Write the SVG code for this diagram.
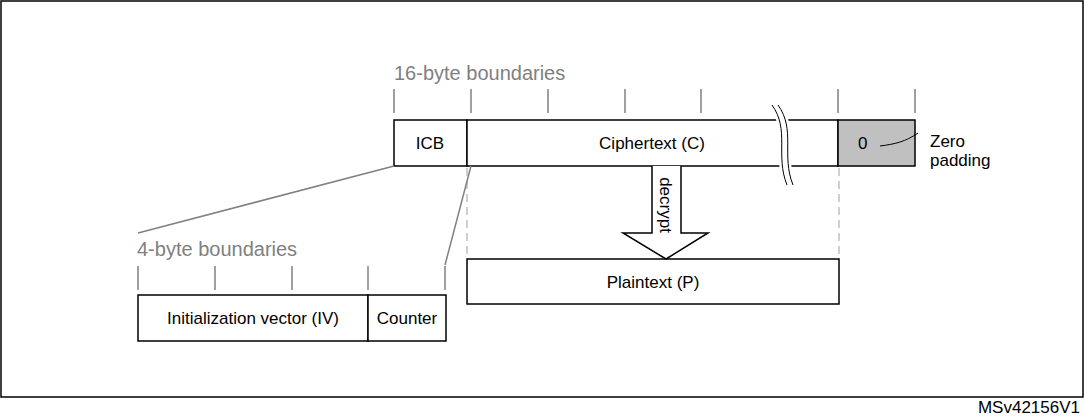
<svg xmlns="http://www.w3.org/2000/svg" width="1084" height="417" viewBox="0 0 1084 417">
<style>
text{font-family:"Liberation Sans",Arial,sans-serif;font-size:17px;fill:#000}
.g{fill:#808080;font-size:20px}
.box{fill:#fff;stroke:#000;stroke-width:1.5}
.tick{stroke:#808080;stroke-width:1.5}
.ln{stroke:#808080;stroke-width:1.5;fill:none}
.dash{stroke:#a0a0a0;stroke-width:1;stroke-dasharray:8,5}
</style>
<rect x="1" y="1" width="1082" height="396" fill="#fff" stroke="#000" stroke-width="1.5"/>
<text x="1080" y="413" text-anchor="end" font-size="13">MSv42156V1</text>
<text class="g" x="394" y="80">16-byte boundaries</text>
<g class="tick"><line x1="394" y1="89" x2="394" y2="113"/><line x1="471" y1="89" x2="471" y2="113"/><line x1="548" y1="89" x2="548" y2="113"/><line x1="625" y1="89" x2="625" y2="113"/><line x1="701" y1="89" x2="701" y2="113"/><line x1="838" y1="89" x2="838" y2="113"/><line x1="915" y1="89" x2="915" y2="113"/></g>
<g id="icb"><rect class="box" x="394" y="120" width="73" height="46"/><text x="430" y="149" text-anchor="middle">ICB</text></g>
<g id="ciphertext"><rect class="box" x="467" y="120" width="371" height="46"/><text x="652" y="149" text-anchor="middle">Ciphertext (C)</text></g>
<g id="zero"><rect x="838" y="120" width="77" height="46" fill="#c0c0c0" stroke="#000" stroke-width="1.5"/><text x="858" y="149">0</text></g>
<path d="M772,105 C790,130 775,155 787,185 M778,105 C796,130 781,155 793,185" fill="none" stroke="#fff" stroke-width="6"/>
<path d="M772,105 C790,130 775,155 787,185 M778,105 C796,130 781,155 793,185" fill="none" stroke="#000" stroke-width="1"/>
<text x="930" y="147" font-size="19">Zero</text><text x="930" y="166" font-size="19">padding</text>
<g id="plaintext"><rect class="box" x="467" y="259" width="372" height="45"/><text x="653" y="288" text-anchor="middle">Plaintext (P)</text></g>
<g id="connectors">
<path d="M880,146 C895,144 905,142 918,133" fill="none" stroke="#000" stroke-width="1"/>
<path d="M652,166 V233 H623 L666,259 L708,233 H681 V166" fill="#fff" stroke="#000" stroke-width="1.5"/>
<line class="dash" x1="467" y1="168" x2="467" y2="258"/>
<line class="dash" x1="839" y1="168" x2="839" y2="258"/>
<line class="ln" x1="394" y1="166" x2="138" y2="233"/>
<line class="ln" x1="471" y1="166" x2="445" y2="265"/>
</g>
<text transform="translate(660,205) rotate(90)" text-anchor="middle">decrypt</text>
<text class="g" x="137" y="256">4-byte boundaries</text>
<g class="tick"><line x1="138" y1="266" x2="138" y2="290"/><line x1="215" y1="266" x2="215" y2="290"/><line x1="292" y1="266" x2="292" y2="290"/><line x1="368" y1="266" x2="368" y2="290"/><line x1="445" y1="266" x2="445" y2="290"/></g>
<g id="iv"><rect class="box" x="138" y="295" width="230" height="46"/><text x="253" y="324" text-anchor="middle">Initialization vector (IV)</text></g>
<g id="counter"><rect class="box" x="368" y="295" width="78" height="46"/><text x="407" y="324" text-anchor="middle">Counter</text></g>
</svg>
